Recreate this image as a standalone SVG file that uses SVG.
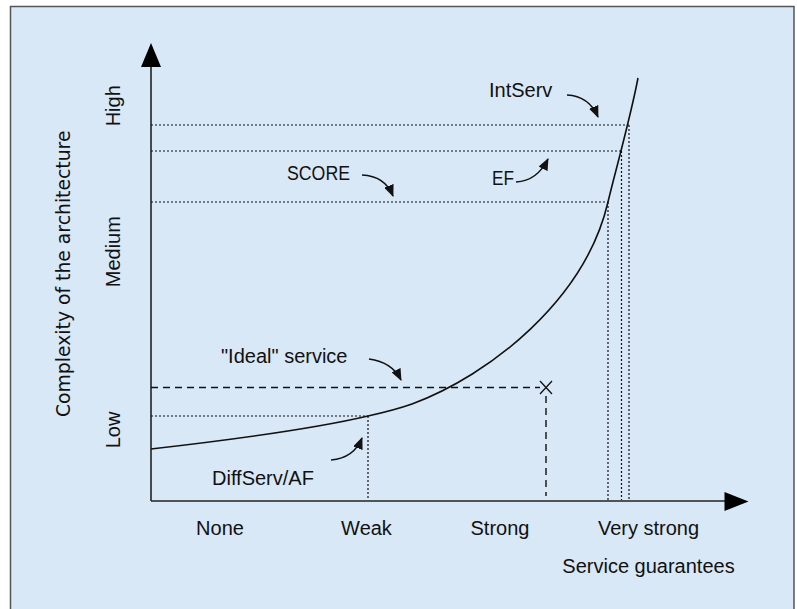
<svg xmlns="http://www.w3.org/2000/svg" width="797" height="609" viewBox="0 0 797 609">
  <defs>
    <style>
      .lbl { font-family: "Liberation Sans", Arial, sans-serif; font-size: 20px; fill: #111; }
      .axtitle { font-family: "DejaVu Sans", "Liberation Sans", sans-serif; font-size: 18.8px; fill: #111; }
      .axis { stroke: #222; stroke-width: 1.6; fill: none; }
      .dot { stroke: #111; stroke-width: 1.2; stroke-dasharray: 2 2; fill: none; }
      .dash { stroke: #111; stroke-width: 1.4; stroke-dasharray: 7 5; fill: none; }
      .curve { stroke: #111; stroke-width: 1.6; fill: none; }
      .lead { stroke: #111; stroke-width: 1.5; fill: none; marker-end: url(#tip); }
    </style>
    <marker id="tip" viewBox="0 0 12 10" refX="11" refY="5" markerWidth="12" markerHeight="10" markerUnits="userSpaceOnUse" orient="auto">
      <path d="M0,0 L12,5 L0,10 Z" fill="#111"/>
    </marker>
  </defs>

  <!-- panel -->
  <rect x="10.5" y="6.5" width="783.5" height="620" fill="#d9e8f6" stroke="#555" stroke-width="1.5"/>

  <!-- axes -->
  <g id="axes">
    <line class="axis" x1="151" y1="501" x2="151" y2="64"/>
    <polygon points="141,67 161,67 151,43" fill="#000"/>
    <line class="axis" x1="151" y1="501" x2="727" y2="501"/>
    <polygon points="724.5,492 724.5,511 748.5,501.5" fill="#000"/>
  </g>

  <!-- reference lines -->
  <g id="guides">
    <path class="dot" d="M151,125 H629 M629,125 V500"/>
    <path class="dot" d="M151,151 H621.5 M621.5,151 V500"/>
    <path class="dot" d="M151,202 H608 M608,202 V500"/>
    <path class="dot" d="M151,416 H368 M368,416 V500"/>
    <path class="dash" d="M151,387.5 H540"/>
    <path class="dash" d="M546,396 V496"/>
    <path d="M540,381 L552,394 M552,381 L540,394" stroke="#111" stroke-width="1.3" fill="none"/>
  </g>

  <!-- cost curve -->
  <g id="curve">
    <path class="curve" d="M151,449 Q300,432 368,416 Q395,410 412,404 C490,375 585,300 608,202 C613,180 630,120 638,78"/>
  </g>

  <!-- leader arrows -->
  <g id="connectors">
    <path class="lead" d="M567,95 Q589,96 598,117"/>
    <path class="lead" d="M516,182 Q537,181 548,159"/>
    <path class="lead" d="M362,175 Q385,176 393,196"/>
    <path class="lead" d="M369,359 Q392,362 401,380"/>
    <path class="lead" d="M331,460 Q354,458 362,438"/>
  </g>

  <!-- annotations -->
  <g id="labels">
    <text class="lbl" x="489" y="97">IntServ</text>
    <text class="lbl" x="492" y="184.5" textLength="22" lengthAdjust="spacingAndGlyphs">EF</text>
    <text class="lbl" x="287" y="179.5" textLength="63" lengthAdjust="spacingAndGlyphs">SCORE</text>
    <text class="lbl" x="221" y="363">"Ideal" service</text>
    <text class="lbl" x="212" y="485">DiffServ/AF</text>
  </g>

  <!-- x ticks -->
  <g id="x-ticks">
    <text class="lbl" x="220" y="535" text-anchor="middle">None</text>
    <text class="lbl" x="366.5" y="535" text-anchor="middle">Weak</text>
    <text class="lbl" x="500" y="535" text-anchor="middle">Strong</text>
    <text class="lbl" x="648.5" y="535" text-anchor="middle">Very strong</text>
    <text class="lbl" x="648.5" y="573" text-anchor="middle">Service guarantees</text>
  </g>

  <!-- y ticks -->
  <g id="y-ticks">
    <text class="lbl" transform="translate(119.5,430) rotate(-90)" text-anchor="middle">Low</text>
    <text class="lbl" transform="translate(119.5,251.7) rotate(-90)" text-anchor="middle">Medium</text>
    <text class="lbl" transform="translate(119.5,105.8) rotate(-90)" text-anchor="middle">High</text>
    <text class="axtitle" transform="translate(70,273.8) rotate(-90)" text-anchor="middle">Complexity of the architecture</text>
  </g>
</svg>
